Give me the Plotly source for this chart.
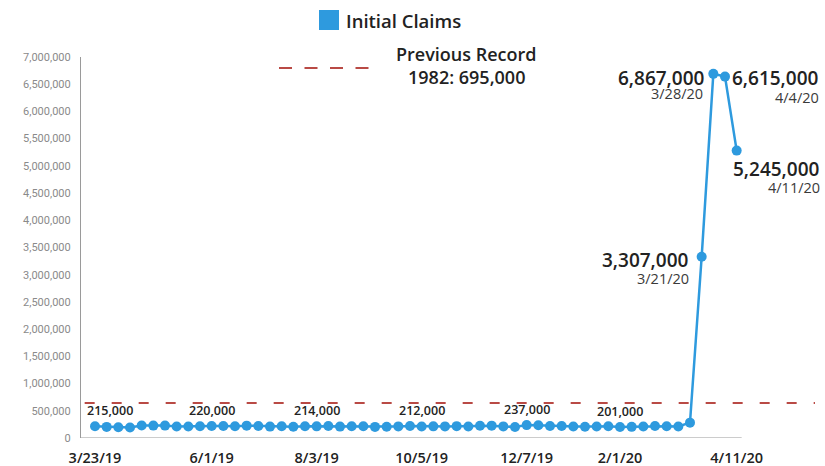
import pandas as pd
import plotly.graph_objects as go

# ---------------- data ----------------
start_week = "2019-03-23"
claims = [215000, 204000, 196000, 193000, 230000, 228000, 228000, 212000, 211000, 215000,
          220000, 222000, 216000, 227000, 222000, 209000, 216000, 206000, 215000,
          214000, 220000, 209000, 215000, 217000, 204000, 208000, 213000, 219000,
          212000, 214000, 213000, 218000, 211000, 225000, 227000, 213000, 203000,
          237000, 235000, 222000, 220000, 212000, 207000, 211000, 216000,
          201000, 205000, 210000, 219000, 216000, 211000, 282000,
          3330000, 6690000, 6640000, 5280000]
weeks = pd.date_range(start_week, periods=len(claims), freq="7D")

small_label_idx = [0, 10, 19, 28, 37, 45]
small_label_text = ["215,000", "220,000", "214,000", "212,000", "237,000", "201,000"]

big_label_idx = [52, 53, 54, 55]
big_label_value = ["3,307,000", "6,867,000", "6,615,000", "5,245,000"]
big_label_date = ["3/21/20", "3/28/20", "4/4/20", "4/11/20"]

tick_idx = [0, 10, 19, 28, 37, 45, 55]
tick_text = ["3/23/19", "6/1/19", "8/3/19", "10/5/19", "12/7/19", "2/1/20", "4/11/20"]

record_level = 645000  # level of the dashed line as drawn
series_name = "Initial Claims"
record_title = "Previous Record"
record_sub = "1982: 695,000"

# ---------------- style ----------------
BLUE = "#2e9ade"
RED = "#b94a45"
DARK = "#222222"
DATE_C = "#3a3a3a"
FONT = "Open Sans"
W, H = 825, 466
L, R, T, B = 81, 10, 57, 28
PW, PH = W - L - R, H - T - B


def px(x):
    return (x - L) / PW


def py(y):
    return (H - B - y) / PH


fig = go.Figure()
fig.add_trace(go.Scatter(
    x=weeks, y=claims, mode="lines+markers",
    line=dict(color=BLUE, width=2.5),
    marker=dict(color=BLUE, size=10),
    name=series_name, showlegend=False, hoverinfo="x+y",
))

# previous record dashed line across plot
fig.add_shape(type="line", xref="paper", yref="y", x0=0.005, x1=1.0,
              y0=record_level, y1=record_level,
              line=dict(color=RED, width=2, dash="10px,17px"))

# x axis line (ends just past last point)
day = pd.Timedelta(days=1)
fig.add_shape(type="line", xref="x", yref="y", x0=weeks[0] - 9 * day,
              x1=weeks[-1] + 3 * day, y0=0, y1=0,
              line=dict(color="#9a9a9a", width=1.2))

annotations = []
for i, t in zip(small_label_idx, small_label_text):
    annotations.append(dict(
        x=weeks[i], y=claims[i], text=t, showarrow=False,
        xanchor="left" if i == 0 else "center", yanchor="bottom",
        xshift=-10 if i == 0 else 0, yshift=5,
        font=dict(family=FONT, size=12.5, color=DARK, weight=600)))

# big labels: right edge x, value y, date y (px)
big_pos = {
    52: dict(xr=691, yv=260, yd=278),
    53: dict(xr=707, yv=78, yd=93),
    54: dict(xr=821, yv=78, yd=97),
    55: dict(xr=822, yv=169, yd=187),
}
for i, v, d in zip(big_label_idx, big_label_value, big_label_date):
    p = big_pos[i]
    annotations.append(dict(
        x=px(p["xr"]), y=py(p["yv"]), xref="paper", yref="paper", text=v,
        showarrow=False, xanchor="right", yanchor="middle",
        font=dict(family=FONT, size=19, color=DARK, weight=600)))
    annotations.append(dict(
        x=px(p["xr"] - (2 if i == 53 else 0)), y=py(p["yd"]), xref="paper", yref="paper",
        text=d, showarrow=False, xanchor="right", yanchor="middle",
        font=dict(family=FONT, size=14.5, color=DATE_C, weight=500)))

# legend: Initial Claims
fig.add_shape(type="rect", xref="paper", yref="paper",
              x0=px(319), x1=px(339), y0=py(30), y1=py(10),
              fillcolor=BLUE, line=dict(width=0))
annotations.append(dict(x=px(344), y=py(21), xref="paper", yref="paper",
                        text=series_name, showarrow=False, xanchor="left", yanchor="middle",
                        font=dict(family=FONT, size=18.5, color=DARK, weight=600)))
# legend: Previous Record
fig.add_shape(type="line", xref="paper", yref="paper",
              x0=px(279), x1=px(371), y0=py(68), y1=py(68),
              line=dict(color=RED, width=2, dash="13px,12.5px"))
annotations.append(dict(x=px(466), y=py(54), xref="paper", yref="paper",
                        text=record_title, showarrow=False, xanchor="center", yanchor="middle",
                        font=dict(family=FONT, size=18, color=DARK, weight=600)))
annotations.append(dict(x=px(466), y=py(77), xref="paper", yref="paper",
                        text=record_sub, showarrow=False, xanchor="center", yanchor="middle",
                        font=dict(family=FONT, size=18, color=DARK, weight=600)))

fig.update_layout(
    width=W, height=H,
    margin=dict(l=L, r=R, t=T, b=B),
    paper_bgcolor="white", plot_bgcolor="white",
    annotations=annotations,
    showlegend=False,
    xaxis=dict(
        type="date", automargin=False,
        range=[weeks[0] - 8.4 * day, weeks[0] + 432 * day],
        tickvals=[weeks[i] for i in tick_idx], ticktext=tick_text,
        showgrid=False, zeroline=False, showline=False, ticks="",
        tickfont=dict(family=FONT, size=14.5, color=DARK, weight=600),
        ticklabelstandoff=9,
    ),
    yaxis=dict(
        automargin=False,
        range=[0, 7000000], tickvals=list(range(0, 7000001, 500000)),
        tickformat=",d", showgrid=False, zeroline=False,
        showline=True, linecolor="#9a9a9a", linewidth=1.2,
        ticks="", ticklabelstandoff=7,
        tickfont=dict(family="Roboto", size=11, color="#8a8a8a"),
    ),
)

post = (
    "var s=document.documentElement.style;s.margin='0';s.padding='0';s.overflow='hidden';"
    "var b=document.body.style;b.margin='0';b.padding='0';b.overflow='hidden';"
    "var g=document.getElementById('{plot_id}').style;"
    "g.position='fixed';g.left='0px';g.top='0px';"
)
fig.write_html("out.html", config={"displayModeBar": False}, post_script=post)
